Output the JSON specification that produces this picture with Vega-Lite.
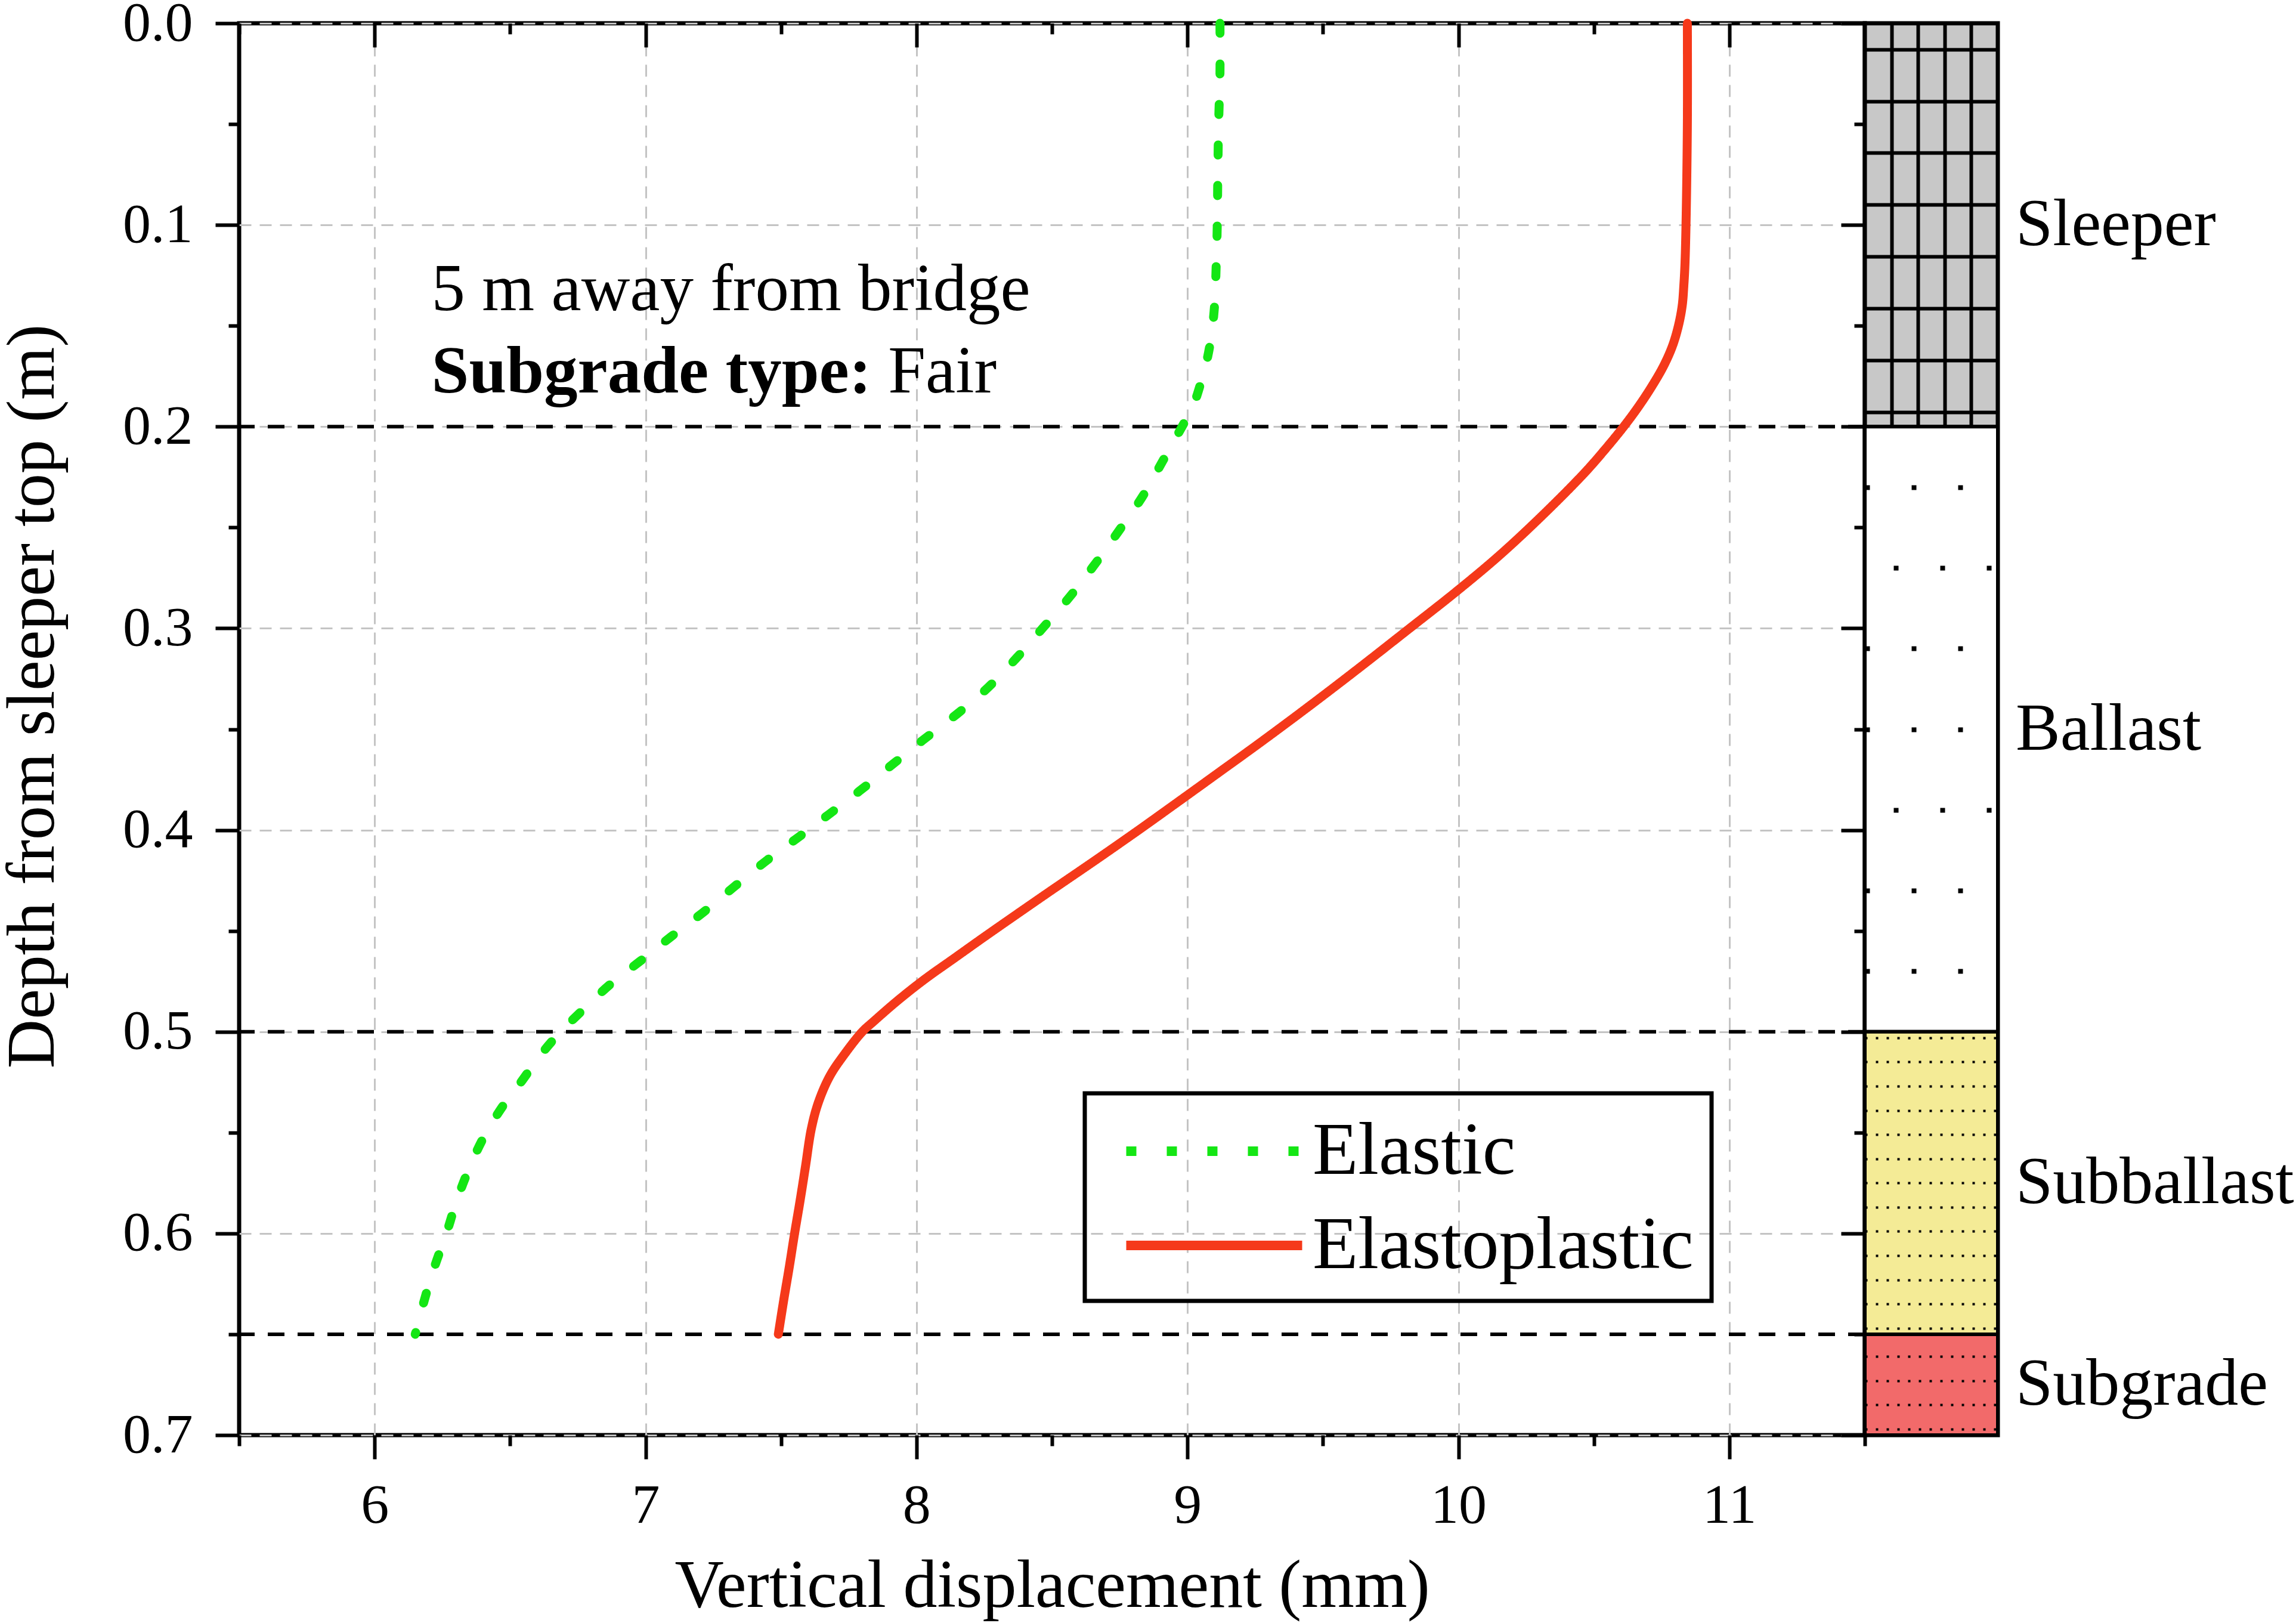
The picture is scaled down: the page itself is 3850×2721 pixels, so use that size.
{
  "$schema": "https://vega.github.io/schema/vega-lite/v6.json",
  "background": "white",
  "autosize": "none",
  "padding": {"left": 401, "top": 39, "right": 0, "bottom": 315},
  "params": [{"name": "width", "value": 3449}, {"name": "height", "value": 2367}],
  "bounds": "flush",
  "spacing": 0,
  "resolve": {"scale": {"x": "independent", "y": "independent"}},
  "config": {
    "view": {"stroke": "black", "strokeWidth": 7},
    "font": "Liberation Serif",
    "axis": {"labelFont": "Liberation Serif", "titleFont": "Liberation Serif", "labelColor": "black", "titleColor": "black", "titleFontWeight": "normal", "tickColor": "black"}
  },
  "hconcat": [
    {
      "width": 2726,
      "height": 2367,
      "resolve": {"axis": {"x": "independent", "y": "independent"}},
      "layer": [
        {
          "data": {"values": [{"depth": 0.2}, {"depth": 0.5}, {"depth": 0.65}]},
          "mark": {"type": "rule", "color": "black", "strokeWidth": 6, "strokeDash": [28, 22]},
          "encoding": {
            "y": {
              "field": "depth", "type": "quantitative",
              "scale": {"domain": [0, 0.7], "reverse": true, "nice": false, "zero": false},
              "axis": {
                "orient": "right",
                "values": [0, 0.05, 0.1, 0.15, 0.2, 0.25, 0.3, 0.35, 0.4, 0.45, 0.5, 0.55, 0.6, 0.65, 0.7],
                "tickSize": {"condition": {"test": "round(datum.value*20)%2===0", "value": -40}, "value": -18},
                "tickWidth": 6,
                "labels": false, "domain": false, "grid": false, "title": null
              }
            }
          }
        },
        {
          "data": {"values": [
            {"series": "Elastic", "depth": 0.0, "disp": 9.12},
            {"series": "Elastic", "depth": 0.025, "disp": 9.12},
            {"series": "Elastic", "depth": 0.05, "disp": 9.115},
            {"series": "Elastic", "depth": 0.075, "disp": 9.112},
            {"series": "Elastic", "depth": 0.1, "disp": 9.11},
            {"series": "Elastic", "depth": 0.12, "disp": 9.106},
            {"series": "Elastic", "depth": 0.14, "disp": 9.1},
            {"series": "Elastic", "depth": 0.155, "disp": 9.088},
            {"series": "Elastic", "depth": 0.167, "disp": 9.072},
            {"series": "Elastic", "depth": 0.178, "disp": 9.05},
            {"series": "Elastic", "depth": 0.19, "disp": 9.02},
            {"series": "Elastic", "depth": 0.2, "disp": 8.98},
            {"series": "Elastic", "depth": 0.2177, "disp": 8.906},
            {"series": "Elastic", "depth": 0.2349, "disp": 8.833},
            {"series": "Elastic", "depth": 0.252, "disp": 8.745},
            {"series": "Elastic", "depth": 0.2679, "disp": 8.66},
            {"series": "Elastic", "depth": 0.2838, "disp": 8.569},
            {"series": "Elastic", "depth": 0.3, "disp": 8.465},
            {"series": "Elastic", "depth": 0.3147, "disp": 8.369},
            {"series": "Elastic", "depth": 0.3296, "disp": 8.262},
            {"series": "Elastic", "depth": 0.3424, "disp": 8.15},
            {"series": "Elastic", "depth": 0.3556, "disp": 8.022},
            {"series": "Elastic", "depth": 0.3687, "disp": 7.9},
            {"series": "Elastic", "depth": 0.3806, "disp": 7.79},
            {"series": "Elastic", "depth": 0.3924, "disp": 7.675},
            {"series": "Elastic", "depth": 0.403, "disp": 7.57},
            {"series": "Elastic", "depth": 0.4148, "disp": 7.45},
            {"series": "Elastic", "depth": 0.428, "disp": 7.328},
            {"series": "Elastic", "depth": 0.4411, "disp": 7.21},
            {"series": "Elastic", "depth": 0.453, "disp": 7.093},
            {"series": "Elastic", "depth": 0.4648, "disp": 6.982},
            {"series": "Elastic", "depth": 0.4767, "disp": 6.868},
            {"series": "Elastic", "depth": 0.4899, "disp": 6.763},
            {"series": "Elastic", "depth": 0.5017, "disp": 6.675},
            {"series": "Elastic", "depth": 0.512, "disp": 6.61},
            {"series": "Elastic", "depth": 0.525, "disp": 6.54},
            {"series": "Elastic", "depth": 0.5375, "disp": 6.47},
            {"series": "Elastic", "depth": 0.553, "disp": 6.4},
            {"series": "Elastic", "depth": 0.569, "disp": 6.345},
            {"series": "Elastic", "depth": 0.585, "disp": 6.3},
            {"series": "Elastic", "depth": 0.6, "disp": 6.265},
            {"series": "Elastic", "depth": 0.615, "disp": 6.225},
            {"series": "Elastic", "depth": 0.63, "disp": 6.19},
            {"series": "Elastic", "depth": 0.65, "disp": 6.15},
            {"series": "Elastoplastic", "depth": 0.0, "disp": 10.845},
            {"series": "Elastoplastic", "depth": 0.05, "disp": 10.845},
            {"series": "Elastoplastic", "depth": 0.1, "disp": 10.84},
            {"series": "Elastoplastic", "depth": 0.12, "disp": 10.836},
            {"series": "Elastoplastic", "depth": 0.13, "disp": 10.832},
            {"series": "Elastoplastic", "depth": 0.14, "disp": 10.826},
            {"series": "Elastoplastic", "depth": 0.15, "disp": 10.812},
            {"series": "Elastoplastic", "depth": 0.16, "disp": 10.79},
            {"series": "Elastoplastic", "depth": 0.17, "disp": 10.757},
            {"series": "Elastoplastic", "depth": 0.18, "disp": 10.714},
            {"series": "Elastoplastic", "depth": 0.19, "disp": 10.665},
            {"series": "Elastoplastic", "depth": 0.2, "disp": 10.61},
            {"series": "Elastoplastic", "depth": 0.2115, "disp": 10.54},
            {"series": "Elastoplastic", "depth": 0.223, "disp": 10.465},
            {"series": "Elastoplastic", "depth": 0.244, "disp": 10.31},
            {"series": "Elastoplastic", "depth": 0.264, "disp": 10.15},
            {"series": "Elastoplastic", "depth": 0.282, "disp": 9.99},
            {"series": "Elastoplastic", "depth": 0.3, "disp": 9.82},
            {"series": "Elastoplastic", "depth": 0.32, "disp": 9.63},
            {"series": "Elastoplastic", "depth": 0.338, "disp": 9.455},
            {"series": "Elastoplastic", "depth": 0.356, "disp": 9.275},
            {"series": "Elastoplastic", "depth": 0.373, "disp": 9.1},
            {"series": "Elastoplastic", "depth": 0.388, "disp": 8.945},
            {"series": "Elastoplastic", "depth": 0.4, "disp": 8.82},
            {"series": "Elastoplastic", "depth": 0.415, "disp": 8.66},
            {"series": "Elastoplastic", "depth": 0.432, "disp": 8.475},
            {"series": "Elastoplastic", "depth": 0.453, "disp": 8.25},
            {"series": "Elastoplastic", "depth": 0.4635, "disp": 8.14},
            {"series": "Elastoplastic", "depth": 0.474, "disp": 8.03},
            {"series": "Elastoplastic", "depth": 0.4846, "disp": 7.93},
            {"series": "Elastoplastic", "depth": 0.4951, "disp": 7.84},
            {"series": "Elastoplastic", "depth": 0.5, "disp": 7.8},
            {"series": "Elastoplastic", "depth": 0.511, "disp": 7.735},
            {"series": "Elastoplastic", "depth": 0.522, "disp": 7.68},
            {"series": "Elastoplastic", "depth": 0.535, "disp": 7.638},
            {"series": "Elastoplastic", "depth": 0.548, "disp": 7.612},
            {"series": "Elastoplastic", "depth": 0.567, "disp": 7.59},
            {"series": "Elastoplastic", "depth": 0.584, "disp": 7.57},
            {"series": "Elastoplastic", "depth": 0.6, "disp": 7.55},
            {"series": "Elastoplastic", "depth": 0.617, "disp": 7.53},
            {"series": "Elastoplastic", "depth": 0.633, "disp": 7.51},
            {"series": "Elastoplastic", "depth": 0.65, "disp": 7.49}
          ]},
          "mark": {"type": "line", "strokeWidth": 15, "strokeCap": "round", "interpolate": "catmull-rom"},
          "encoding": {
            "x": {
              "field": "disp", "type": "quantitative",
              "scale": {"domain": [5.5, 11.5], "nice": false, "zero": false},
              "axis": {
                "orient": "bottom",
                "values": [5.5, 6, 6.5, 7, 7.5, 8, 8.5, 9, 9.5, 10, 10.5, 11, 11.5],
                "tickSize": {"condition": {"test": "datum.value % 1 === 0", "value": 40}, "value": 18},
                "tickWidth": 6,
                "labelExpr": "datum.value % 1 === 0 ? format(datum.value, 'd') : ''",
                "labelFontSize": 94, "labelPadding": 32, "labelFlush": false, "labelOverlap": false,
                "domain": false,
                "grid": true, "gridColor": "#c4c4c4", "gridWidth": 3, "gridDash": [20, 14],
                "gridOpacity": {"condition": {"test": "datum.value % 1 === 0", "value": 1}, "value": 0},
                "title": "Vertical displacement (mm)", "titleFontSize": 114,
                "titleBaseline": "alphabetic", "titleY": 287
              }
            },
            "y": {
              "field": "depth", "type": "quantitative",
              "scale": {"domain": [0, 0.7], "reverse": true, "nice": false, "zero": false},
              "axis": {
                "orient": "left",
                "values": [0, 0.05, 0.1, 0.15, 0.2, 0.25, 0.3, 0.35, 0.4, 0.45, 0.5, 0.55, 0.6, 0.65, 0.7],
                "tickSize": {"condition": {"test": "round(datum.value*20)%2===0", "value": 40}, "value": 18},
                "tickWidth": 6,
                "labelExpr": "round(datum.value*20)%2===0 ? format(datum.value, '.1f') : ''",
                "labelFontSize": 94, "labelPadding": 38, "labelFlush": false, "labelOverlap": false,
                "domain": false,
                "grid": true, "gridColor": "#c4c4c4", "gridWidth": 3, "gridDash": [20, 14],
                "gridOpacity": {"condition": {"test": "round(datum.value*20)%2===0", "value": 1}, "value": 0},
                "title": "Depth from sleeper top (m)", "titleFontSize": 114,
                "titleBaseline": "alphabetic", "titleAngle": -90, "titleAlign": "center",
                "titleX": -312, "titleY": 1128
              }
            },
            "order": {"field": "depth", "type": "quantitative"},
            "color": {
              "field": "series", "type": "nominal",
              "scale": {"domain": ["Elastic", "Elastoplastic"], "range": ["#14e614", "#f5391a"]},
              "legend": {
                "title": null, "orient": "none", "legendX": 1418, "legendY": 1794,
                "symbolType": "M-2.5,0H2.5", "symbolSize": 13924, "symbolStrokeWidth": 16, "symbolOffset": 120,
                "labelOffset": 98, "labelFontSize": 125, "labelFont": "Liberation Serif", "labelColor": "black", "labelLimit": 2000,
                "padding": 30, "rowPadding": 28, "strokeColor": "black",
                "encoding": {"legend": {"strokeWidth": {"value": 7}}}
              }
            },
            "strokeDash": {
              "field": "series", "type": "nominal",
              "scale": {"domain": ["Elastic", "Elastoplastic"], "range": [[17, 51], [1, 0]]},
              "legend": {
                "title": null, "orient": "none", "legendX": 1418, "legendY": 1794,
                "symbolType": "M-2.5,0H2.5", "symbolSize": 13924, "symbolStrokeWidth": 16, "symbolOffset": 120,
                "labelOffset": 98, "labelFontSize": 125, "labelFont": "Liberation Serif", "labelColor": "black", "labelLimit": 2000,
                "padding": 30, "rowPadding": 28, "strokeColor": "black",
                "encoding": {"legend": {"strokeWidth": {"value": 7}}}
              }
            }
          }
        },
        {
          "data": {"values": [
            {"x": 6.21, "depth": 0.1423, "text": "5 m away from bridge"},
            {"x": 7.895, "depth": 0.1831, "text": "Fair"}
          ]},
          "mark": {"type": "text", "align": "left", "baseline": "alphabetic", "fontSize": 113, "font": "Liberation Serif", "color": "black"},
          "encoding": {
            "x": {
              "field": "x", "type": "quantitative",
              "scale": {"domain": [5.5, 11.5], "nice": false, "zero": false},
              "axis": {
                "orient": "top",
                "values": [5.5, 6, 6.5, 7, 7.5, 8, 8.5, 9, 9.5, 10, 10.5, 11, 11.5],
                "tickSize": {"condition": {"test": "datum.value % 1 === 0", "value": -40}, "value": -18},
                "tickWidth": 6,
                "labels": false, "domain": false, "grid": false, "title": null
              }
            },
            "y": {"field": "depth", "type": "quantitative", "scale": {"domain": [0, 0.7], "reverse": true, "nice": false, "zero": false}, "axis": null},
            "text": {"field": "text"}
          }
        },
        {
          "data": {"values": [
            {"x": 6.21, "depth": 0.1831, "text": "Subgrade type:"}
          ]},
          "mark": {"type": "text", "align": "left", "baseline": "alphabetic", "fontSize": 113, "font": "Liberation Serif", "fontWeight": "bold", "color": "black"},
          "encoding": {
            "x": {"field": "x", "type": "quantitative", "scale": {"domain": [5.5, 11.5], "nice": false, "zero": false}, "axis": null},
            "y": {"field": "depth", "type": "quantitative", "scale": {"domain": [0, 0.7], "reverse": true, "nice": false, "zero": false}, "axis": null},
            "text": {"field": "text"}
          }
        }
      ]
    },
    {
      "width": 223,
      "height": 2367,
      "view": {"fill": "#c8c8c8", "stroke": "black"},
      "data": {"values": [
        {"layer": "Sleeper", "top": 0, "bottom": 0.2, "mid": 0.1},
        {"layer": "Ballast", "top": 0.2, "bottom": 0.5, "mid": 0.35},
        {"layer": "Subballast", "top": 0.5, "bottom": 0.65, "mid": 0.575},
        {"layer": "Subgrade", "top": 0.65, "bottom": 0.7, "mid": 0.675}
      ]},
      "layer": [
        {
          "mark": {"type": "rect", "stroke": "black", "strokeWidth": 6},
          "encoding": {
            "x": {
              "datum": 0, "type": "quantitative",
              "scale": {"domain": [0, 5], "nice": false, "zero": false},
              "axis": {"values": [1, 2, 3, 4], "grid": true, "gridColor": "black", "gridWidth": 6, "gridDash": [], "ticks": false, "labels": false, "domain": false, "title": null, "zindex": 0}
            },
            "x2": {"datum": 5},
            "y": {
              "field": "top", "type": "quantitative",
              "scale": {"domain": [0, 0.7], "reverse": true, "nice": false, "zero": false},
              "axis": {
                "values": [0.0129, 0.0257, 0.0386, 0.0514, 0.0643, 0.0771, 0.09, 0.1029, 0.1157, 0.1286, 0.1414, 0.1543, 0.1671, 0.18, 0.1929,
                  0.21, 0.23, 0.25, 0.27, 0.29, 0.31, 0.33, 0.35, 0.37, 0.39, 0.41, 0.43, 0.45, 0.47, 0.49,
                  0.503, 0.509, 0.515, 0.521, 0.527, 0.533, 0.539, 0.545, 0.551, 0.557, 0.563, 0.569, 0.575, 0.581, 0.587, 0.593, 0.599, 0.605, 0.611, 0.617, 0.623, 0.629, 0.635, 0.641, 0.647,
                  0.655, 0.661, 0.667, 0.673, 0.679, 0.685, 0.691, 0.697],
                "grid": true, "gridColor": "black",
                "gridWidth": {"condition": [{"test": "datum.value < 0.2", "value": 6}, {"test": "datum.value < 0.5", "value": 8}], "value": 4},
                "gridDash": {"condition": [{"test": "datum.value < 0.2", "value": []}, {"test": "datum.value < 0.5", "value": [8, 70]}], "value": [4, 14]},
                "gridDashOffset": {"condition": {"test": "round(datum.value*1000/6)%2===1", "value": 30}, "value": 0},
                "ticks": false, "labels": false, "domain": false, "title": null, "zindex": 1
              }
            },
            "y2": {"field": "bottom"},
            "fill": {
              "field": "layer", "type": "nominal",
              "scale": {"domain": ["Sleeper", "Ballast", "Subballast", "Subgrade"], "range": ["rgba(0,0,0,0)", "#ffffff", "#f4eb96", "#f26a6a"]},
              "legend": null
            }
          }
        },
        {
          "mark": {"type": "text", "align": "left", "baseline": "middle", "dx": 30, "fontSize": 112, "font": "Liberation Serif", "color": "black"},
          "encoding": {
            "x": {"datum": 5, "type": "quantitative"},
            "y": {"field": "mid", "type": "quantitative"},
            "text": {"field": "layer"}
          }
        }
      ]
    }
  ]
}
